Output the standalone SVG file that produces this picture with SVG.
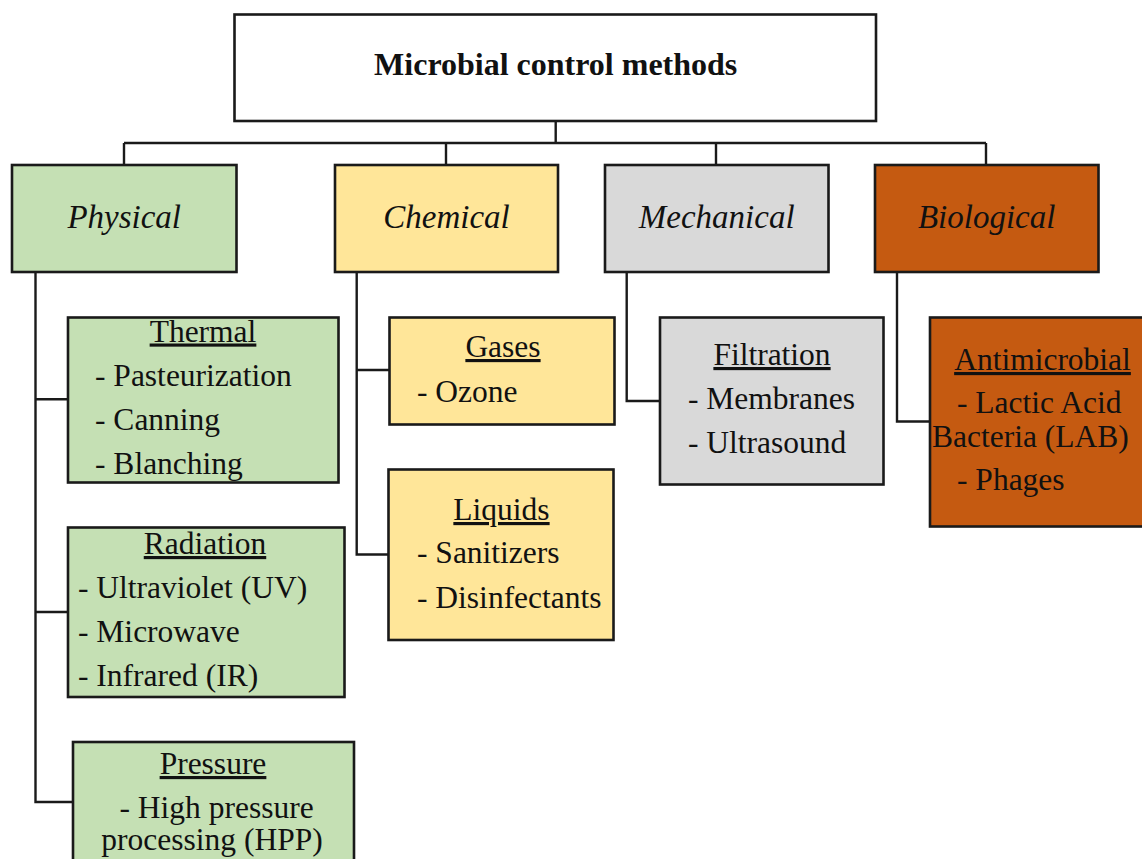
<svg xmlns="http://www.w3.org/2000/svg" width="1142" height="859" viewBox="0 0 1142 859">
<style>
.box{stroke:#1a1a1a;stroke-width:2.6}
.g{fill:#C5E0B4}.y{fill:#FFE699}.s{fill:#D9D9D9}.o{fill:#C55A11}.w{fill:#ffffff}
text{font-family:"Liberation Serif","Times New Roman",serif;font-size:31.5px;fill:#111;white-space:pre}
.t{font-weight:bold;font-size:32px}
.cat{font-style:italic;font-size:33px}
.h{text-decoration:underline}
.m{text-anchor:middle}
.c{fill:none;stroke:#1a1a1a;stroke-width:2.4}
</style>
<g id="connectors">
<path class="c" d="M555.7 121V143M124 143H986M124 143V165M446 143V165M716 143V165M986 143V165"/>
<path class="c" d="M35.5 272V802H73M35.5 399.3H68M35.5 612H68"/>
<path class="c" d="M356.7 272V554.5H389M356.7 370H390"/>
<path class="c" d="M626.7 272V401H660"/>
<path class="c" d="M897 272V421.5H930"/>
</g>
<g id="root">
<rect class="box w" x="234.5" y="14.5" width="641.5" height="106.5"/>
<text class="t m" x="555.7" y="75">Microbial control methods</text>
</g>
<g id="physical">
<rect class="box g" x="12" y="165" width="224.5" height="107"/>
<text class="cat m" x="124.2" y="228">Physical</text>
</g>
<g id="chemical">
<rect class="box y" x="335" y="165" width="223" height="107"/>
<text class="cat m" x="446.5" y="228">Chemical</text>
</g>
<g id="mechanical">
<rect class="box s" x="605" y="165" width="223.5" height="107"/>
<text class="cat m" x="716.7" y="228">Mechanical</text>
</g>
<g id="biological">
<rect class="box o" x="875" y="165" width="223.5" height="107"/>
<text class="cat m" x="986.7" y="228">Biological</text>
</g>
<g id="thermal">
<rect class="box g" x="68" y="317.5" width="270.5" height="165"/>
<text class="h m" x="203" y="341.5">Thermal</text>
<text x="95" y="386">- Pasteurization</text>
<text x="95" y="429.5">- Canning</text>
<text x="95" y="474">- Blanching</text>
</g>
<g id="radiation">
<rect class="box g" x="68" y="527.5" width="276.5" height="169.5"/>
<text class="h m" x="205" y="554">Radiation</text>
<text x="78" y="598.3">- Ultraviolet (UV)</text>
<text x="78" y="641.7">- Microwave</text>
<text x="78" y="686">- Infrared (IR)</text>
</g>
<g id="pressure">
<rect class="box g" x="73" y="742" width="281" height="130"/>
<text class="h m" x="213" y="774">Pressure</text>
<text class="m" x="216.6" y="818">- High pressure</text>
<text class="m" x="212" y="850">processing (HPP)</text>
</g>
<g id="gases">
<rect class="box y" x="389.5" y="317.5" width="225" height="107"/>
<text class="h m" x="503" y="357">Gases</text>
<text x="417" y="401.5">- Ozone</text>
</g>
<g id="liquids">
<rect class="box y" x="388.5" y="469.5" width="225" height="170.5"/>
<text class="h m" x="501.5" y="520">Liquids</text>
<text x="417" y="563.3">- Sanitizers</text>
<text x="417" y="608.3">- Disinfectants</text>
</g>
<g id="filtration">
<rect class="box s" x="660" y="317.5" width="223.5" height="167"/>
<text class="h m" x="772" y="365">Filtration</text>
<text x="688" y="408.5">- Membranes</text>
<text x="688" y="452.5">- Ultrasound</text>
</g>
<g id="antimicrobial">
<rect class="box o" x="930" y="317.5" width="225" height="209"/>
<text class="h m" x="1042.5" y="370">Antimicrobial</text>
<text x="957" y="413">- Lactic Acid</text>
<text x="932" y="447">Bacteria (LAB)</text>
<text x="957" y="490">- Phages</text>
</g>
</svg>
